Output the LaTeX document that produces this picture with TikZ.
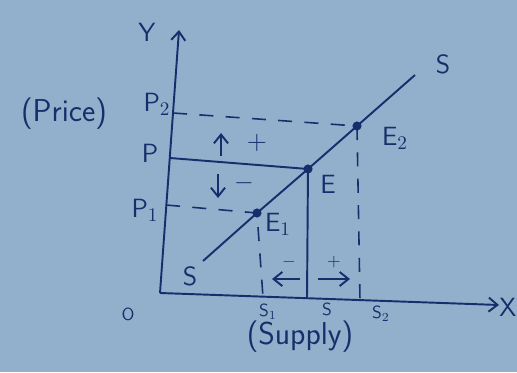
\documentclass[tikz,border=0pt]{standalone}
\usetikzlibrary{arrows.meta}
\definecolor{paper}{RGB}{146,176,204}
\definecolor{ink}{RGB}{24,46,108}
\tikzset{
	lbl/.style={inner sep=1pt, font=\sffamily\fontsize{15}{17}\selectfont},
	small/.style={inner sep=1pt, font=\sffamily\fontsize{10}{12}\selectfont},
	tip/.style={-{Straight Barb[length=5pt,width=8pt]}},
}
\begin{document}
\begin{tikzpicture}[x=0.02cm, y=-0.02cm, line width=1.1pt, draw=ink, text=ink]
				\fill[paper] (0,0) rectangle (517,372);
				\useasboundingbox (0,0) rectangle (517,372);

				\coordinate (O) at (160,293);
				\coordinate (Ytop) at (179,30);
				\coordinate (Xend) at (499,305);
				\coordinate (P2) at (173,113);
				\coordinate (P) at (170,158);
				\coordinate (P1) at (166,205);
				\coordinate (E) at (308,169);
				\coordinate (E1) at (257,213);
				\coordinate (E2) at (357,126);
				\coordinate (S1x) at (263,297);
				\coordinate (Sx) at (307,298);
				\coordinate (S2x) at (360,300);
				\coordinate (Slo) at (203,261);
				\coordinate (Shi) at (415,75);

				\draw[tip] (O) -- (Ytop);
				\draw[tip] (O) -- (Xend);

				\draw (Slo) -- (E1) -- (E) -- (E2) -- (Shi);
				\draw (P) -- (E) -- (Sx);
				\draw[dashed, line width=0.9pt, dash pattern=on 8pt off 7pt] (P2) -- (E2) -- (S2x);
				\draw[dashed, line width=0.9pt, dash pattern=on 8pt off 7pt] (P1) -- (E1) -- (S1x);

				\foreach \i in {E, E1, E2}{
						\fill[ink] (\i) circle (2.6pt);
					}

				% price change arrows
				\coordinate (up1) at (221,156);
				\coordinate (up2) at (221,133);
				\coordinate (dn1) at (218,174);
				\coordinate (dn2) at (218,198);
				\coordinate (lf1) at (300,279);
				\coordinate (lf2) at (272,279);
				\coordinate (rt1) at (318,279);
				\coordinate (rt2) at (350,279);
				\draw[tip] (up1) -- (up2);
				\draw[tip] (dn1) -- (dn2);
				\draw[tip] (lf1) -- (lf2);
				\draw[tip] (rt1) -- (rt2);

				\node[lbl] (plus1) at (257,143) {+};
				\node[lbl] (minus1) at (244,183) {$-$};
				\node[small] (minus2) at (289,262) {$-$};
				\node[small] (plus2) at (334,262) {+};

				\node[lbl] (ylab) at (147,32) {Y};
				\node[lbl] (xlab) at (508,307) {X};
				\node[small] (olab) at (128,314) {O};
				\node[lbl, font=\sffamily\fontsize{18}{20}\selectfont] (price) at (64,114) {(Price)};
				\node[lbl] (p2lab) at (157,104) {P$_2$};
				\node[lbl] (plab) at (150,153) {P};
				\node[lbl] (p1lab) at (145,210) {P$_1$};
				\node[lbl] (elab) at (328,184) {E};
				\node[lbl] (e1lab) at (278,224) {E$_1$};
				\node[lbl] (e2lab) at (395,138) {E$_2$};
				\node[lbl] (shi) at (443,64) {S};
				\node[lbl] (slo) at (190,276) {S};
				\node[small] (s1lab) at (268,312) {S$_1$};
				\node[small] (slab) at (327,309) {S};
				\node[small] (s2lab) at (381,314) {S$_2$};
				\node[lbl, font=\sffamily\fontsize{18}{20}\selectfont] (supply) at (300,337) {(Supply)};
			\end{tikzpicture}
\end{document}
